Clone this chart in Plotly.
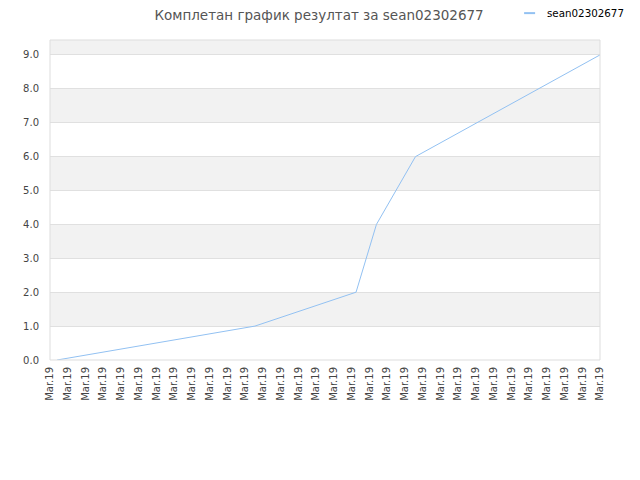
import plotly.graph_objects as go

# data
series_name = "sean02302677"
point_x = [0.4, 11.55, 17.25, 18.4, 20.6, 31.0]
point_y = [0, 1, 2, 4, 6, 9]
tick_pos = list(range(32))
tick_text = ["Mar.19"] * 32
y_ticks = [0, 1, 2, 3, 4, 5, 6, 7, 8, 9]
y_max = 9.44

line_color = "#92c1f2"

fig = go.Figure()
fig.add_trace(go.Scatter(
    x=point_x, y=point_y, mode="lines", name=series_name,
    line=dict(color=line_color, width=1), showlegend=False,
))

# alternating horizontal bands
shapes = []
for lo in y_ticks:
    hi = min(lo + 1, y_max)
    if lo % 2 == 1:
        fill = "#f2f2f2"
    elif lo == 9:
        fill = "#eeeeee"
    else:
        continue
    shapes.append(dict(type="rect", xref="paper", yref="y", x0=0, x1=1, y0=lo, y1=hi,
                       fillcolor=fill, line_width=0, layer="below"))
shapes.append(dict(type="rect", xref="paper", yref="paper", x0=0, x1=1, y0=0, y1=1,
                   line=dict(color="#dddddd", width=1), layer="above"))

# small legend drawn by hand (short line + name), as in the reference
shapes.append(dict(type="line", xref="paper", yref="paper", x0=0.862, x1=0.882,
                   y0=1.084, y1=1.084, line=dict(color=line_color, width=2)))
annotations = [dict(text=series_name, xref="paper", yref="paper", x=0.9, y=1.084,
                    xanchor="left", yanchor="middle", showarrow=False,
                    font=dict(size=10.3, color="#000000"))]

# page body has an 8px margin, so margins are shifted to keep the plot box in place
fig.update_layout(
    width=640, height=480,
    margin=dict(l=42, r=48, t=32, b=128, autoexpand=False),
    paper_bgcolor="white", plot_bgcolor="white",
    font=dict(family="DejaVu Sans", size=10, color="#444444"),
    title=dict(text="Комплетан график резултат за sean02302677", x=0.486, xanchor="center",
               y=0.984, yanchor="middle", font=dict(size=13.5, color="#555555")),
    showlegend=False,
    shapes=shapes,
    annotations=annotations,
)
fig.update_xaxes(range=[0, 31], tickmode="array", tickvals=tick_pos, ticktext=tick_text,
                 tickangle=-90, showgrid=False, zeroline=False, showline=False, ticks="",
                 ticklabelstandoff=4)
fig.update_yaxes(range=[0, y_max], tickmode="array", tickvals=y_ticks,
                 ticktext=[f"{v:.1f}" for v in y_ticks], showgrid=True, gridcolor="#e0e0e0",
                 zeroline=False, showline=False, ticks="", ticklabelstandoff=10)

fig.write_html("out.html")
